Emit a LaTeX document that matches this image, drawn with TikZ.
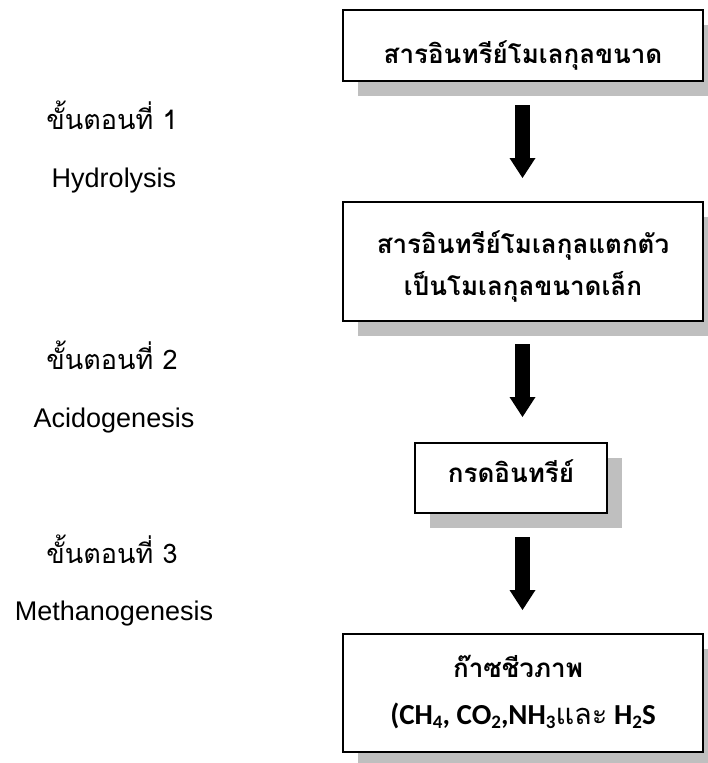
\documentclass[tikz,border=0pt]{standalone}
\usepackage{fontspec}
\setmainfont{Liberation Sans}
\newfontfamily\thaifont[Script=Thai]{Loma}
\newfontfamily\calfont{Carlito}
\usetikzlibrary{arrows.meta,shadows}

% lowered small figure for chemical formulae
\newcommand{\chsub}[1]{\raisebox{-0.16em}{\fontsize{19}{19}\selectfont #1}}

\begin{document}
\begin{tikzpicture}[x=1pt,y=-1pt,
  stagebox/.style={draw=black, line width=2pt, fill=white, inner sep=0pt,
    drop shadow={shadow xshift=15pt, shadow yshift=-15pt, fill=black!25, opacity=1}},
  boxtext/.style={anchor=base, inner sep=0pt, font=\thaifont\bfseries\fontsize{26}{30}\selectfont},
  steplabel/.style={anchor=base, inner sep=0pt, font=\thaifont\fontsize{27}{30}\selectfont},
  phase/.style={anchor=base, inner sep=0pt, font=\fontsize{27}{30}\selectfont},
  flow/.style={line width=15pt, -{Triangle[width=26pt,length=20pt,line width=0pt]}},
]
\useasboundingbox (0,0) rectangle (707,763);

% stage boxes
\node[stagebox, minimum width=360pt, minimum height=71pt]  (b1) at (523,45.5) {};
\node[stagebox, minimum width=360pt, minimum height=119pt] (b2) at (523,261.5) {};
\node[stagebox, minimum width=192pt, minimum height=70pt]  (b3) at (511,478) {};
\node[stagebox, minimum width=360pt, minimum height=118pt] (b4) at (523,693) {};

% box texts
\node[boxtext] (t1)  at (523,63)  {สารอินทรีย์โมเลกุลขนาด};
\node[boxtext] (t2a) at (523,253) {สารอินทรีย์โมเลกุลแตกตัว};
\node[boxtext] (t2b) at (523,295) {เป็นโมเลกุลขนาดเล็ก};
\node[boxtext] (t3)  at (511,482) {กรดอินทรีย์};
\node[boxtext] (t4a) at (518,677) {ก๊าซชีวภาพ};
\node[anchor=base, inner sep=0pt, font=\fontsize{29}{32}\selectfont] (t4b) at (523,724)
  {{\calfont\bfseries (CH\chsub{4}, CO\chsub{2},NH\chsub{3}}{\thaifont และ}{\calfont\bfseries\ H\chsub{2}S}};

% flow arrows
\coordinate (a1s) at (522.5,105);  \coordinate (a1e) at (522.5,178);
\coordinate (a2s) at (522.5,344);  \coordinate (a2e) at (522.5,417);
\coordinate (a3s) at (522.5,537);  \coordinate (a3e) at (522.5,610);
\draw[flow] (a1s) -- (a1e);
\draw[flow] (a2s) -- (a2e);
\draw[flow] (a3s) -- (a3e);

% stage labels
\node[steplabel] (s1) at (112,129) {ขั้นตอนที่ 1};
\node[phase]     (p1) at (114,187) {Hydrolysis};
\node[steplabel] (s2) at (112,369) {ขั้นตอนที่ 2};
\node[phase]     (p2) at (114,427) {Acidogenesis};
\node[steplabel] (s3) at (112,563) {ขั้นตอนที่ 3};
\node[phase]     (p3) at (114,620) {Methanogenesis};
\end{tikzpicture}
\end{document}
